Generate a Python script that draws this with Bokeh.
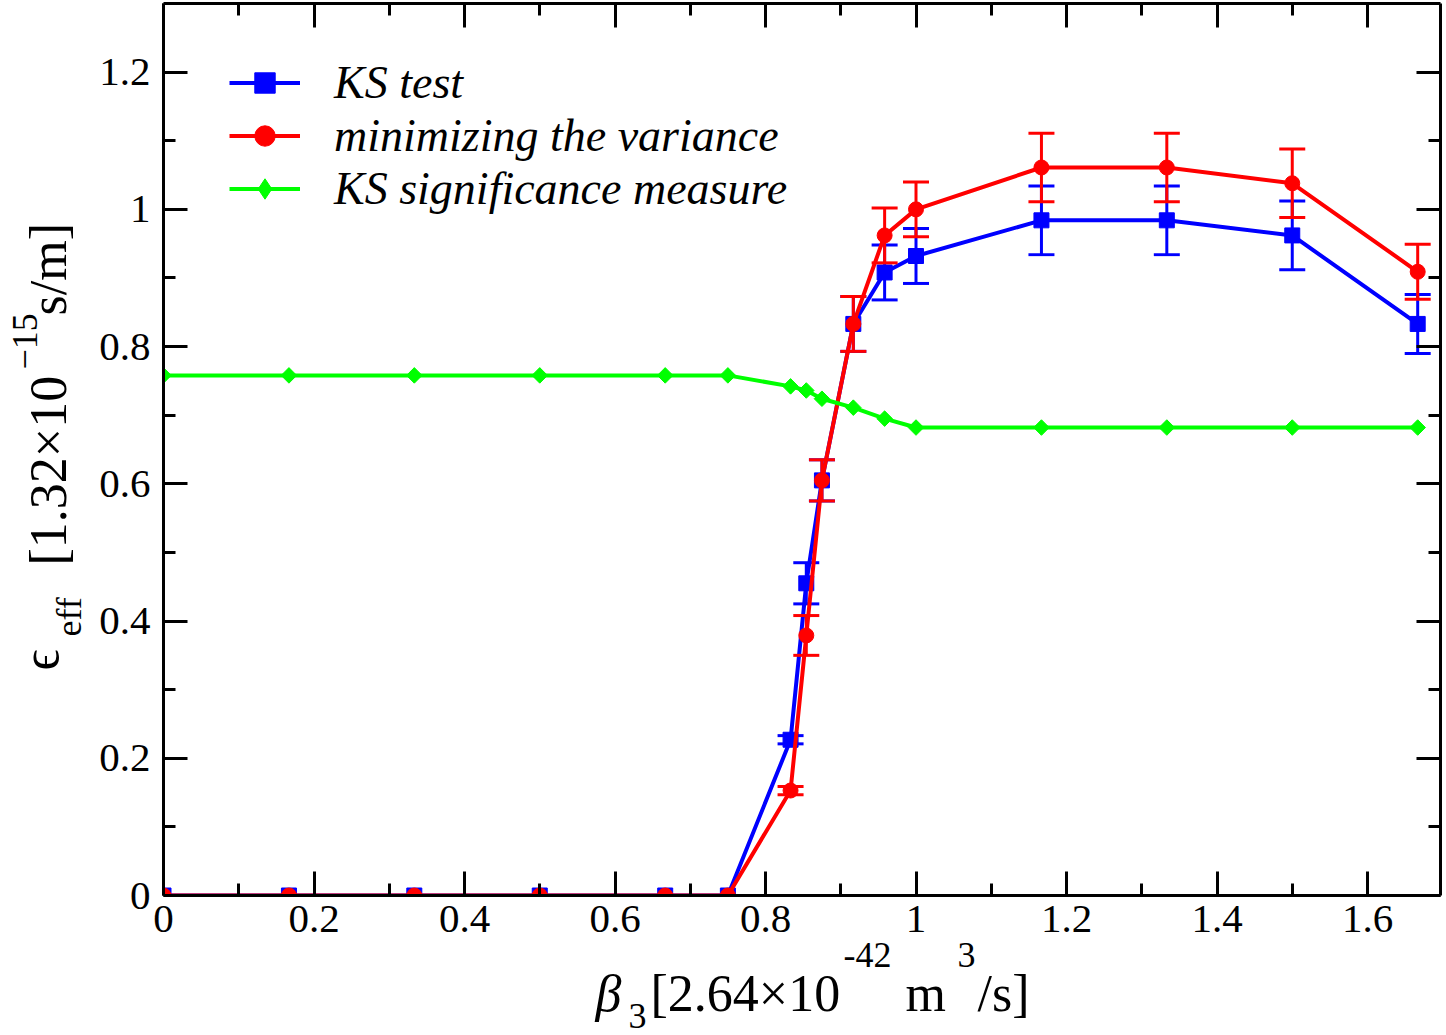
import math
from bokeh.plotting import figure
from bokeh.models import (ColumnDataSource, FixedTicker, CustomJSTickFormatter, LinearAxis,
                          Legend, LegendItem, Range1d, Title)
from bokeh.embed import file_html
from bokeh.resources import INLINE

# ---- data ----
beta = [0.0, 0.1667, 0.3333, 0.5, 0.6667, 0.75, 0.8333, 0.8542, 0.875, 0.9167,
        0.9583, 1.0, 1.1667, 1.3333, 1.5, 1.6667]
ks_test = [0, 0, 0, 0, 0, 0, 0.227, 0.455, 0.605, 0.833, 0.908, 0.932, 0.984, 0.984, 0.962, 0.833]
ks_err = [0, 0, 0, 0, 0, 0, 0.006, 0.030, 0.030, 0.040, 0.040, 0.040, 0.050, 0.050, 0.050, 0.043]
min_var = [0, 0, 0, 0, 0, 0, 0.153, 0.379, 0.605, 0.833, 0.962, 1.000, 1.061, 1.061, 1.038, 0.909]
var_err = [0, 0, 0, 0, 0, 0, 0.006, 0.029, 0.030, 0.040, 0.040, 0.040, 0.050, 0.050, 0.050, 0.040]
ks_sig = [0.758, 0.758, 0.758, 0.758, 0.758, 0.758, 0.742, 0.736, 0.724, 0.711, 0.695,
          0.682, 0.682, 0.682, 0.682, 0.682]

x_major = [0, 0.2, 0.4, 0.6, 0.8, 1.0, 1.2, 1.4, 1.6]
x_minor = [0.1, 0.3, 0.5, 0.7, 0.9, 1.1, 1.3, 1.5]
y_major = [0, 0.2, 0.4, 0.6, 0.8, 1.0, 1.2]
y_minor = [0.1, 0.3, 0.5, 0.7, 0.9, 1.1]

series_names = ["KS test", "minimizing the variance", "KS significance measure"]

BLUE, RED, GREEN = "#0000ff", "#ff0000", "#00ff00"
FONT = "Liberation Serif"

p = figure(width=1446, height=1035, output_backend="svg", toolbar_location=None,
           x_range=Range1d(0, 1.697), y_range=Range1d(0, 1.3),
           min_border_left=163, min_border_right=6, min_border_top=3, min_border_bottom=140)
p.xgrid.visible = False
p.ygrid.visible = False
p.outline_line_color = None
p.background_fill_color = "white"
p.border_fill_color = "white"

fmt = CustomJSTickFormatter(code="return String(Math.round(tick*10)/10);")
blank = CustomJSTickFormatter(code="return '';")


def style(ax, ticks, minor, labels=True):
    ax.ticker = FixedTicker(ticks=ticks, minor_ticks=minor)
    ax.axis_line_width = 3
    ax.axis_line_color = "black"
    ax.major_tick_in = 24
    ax.major_tick_out = 0
    ax.minor_tick_in = 12
    ax.minor_tick_out = 0
    ax.major_tick_line_width = 3
    ax.minor_tick_line_width = 3
    ax.major_tick_line_color = "black"
    ax.minor_tick_line_color = "black"
    ax.major_label_text_font = FONT
    ax.major_label_text_color = "black"
    if labels:
        ax.formatter = fmt
        ax.major_label_text_font_size = "41px"
    else:
        ax.formatter = blank
        ax.major_label_text_font_size = "1px"
        ax.major_label_standoff = 0


style(p.xaxis[0], x_major, x_minor)
p.xaxis[0].major_label_standoff = 10
style(p.yaxis[0], y_major, y_minor)
p.yaxis[0].major_label_standoff = 13

top = LinearAxis()
style(top, x_major, x_minor, labels=False)
p.add_layout(top, "above")
right = LinearAxis()
style(right, y_major, y_minor, labels=False)
p.add_layout(right, "right")


def errbars(y, err, color):
    xs = [b for b, e in zip(beta, err) if e > 0]
    lo = [v - e for v, e in zip(y, err) if e > 0]
    hi = [v + e for v, e in zip(y, err) if e > 0]
    src = ColumnDataSource(dict(x=xs, lo=lo, hi=hi))
    p.segment(x0="x", y0="lo", x1="x", y1="hi", source=src, line_color=color, line_width=3)
    p.scatter("x", "lo", source=src, marker="dash", size=26, line_color=color, line_width=3)
    p.scatter("x", "hi", source=src, marker="dash", size=26, line_color=color, line_width=3)


src = ColumnDataSource(dict(x=beta, ks=ks_test, var=min_var, sig=ks_sig))

errbars(ks_test, ks_err, BLUE)
bl = p.line("x", "ks", source=src, line_color=BLUE, line_width=4)
bs = p.scatter("x", "ks", source=src, marker="square", size=15, fill_color=BLUE, line_color=BLUE)

errbars(min_var, var_err, RED)
rl = p.line("x", "var", source=src, line_color=RED, line_width=4)
rs = p.scatter("x", "var", source=src, marker="circle", size=15, fill_color=RED, line_color=RED)

gl = p.line("x", "sig", source=src, line_color=GREEN, line_width=4)
# small diamonds hidden beneath the rotated squares; they give the legend its diamond key
g_key = p.scatter("x", "sig", source=src, marker="diamond", size=10,
                  fill_color=GREEN, line_color=GREEN)
gs = p.scatter("x", "sig", source=src, marker="square", angle=math.pi / 4, size=11,
               fill_color=GREEN, line_color=GREEN)

legend = Legend(items=[LegendItem(label=series_names[0], renderers=[bl, bs]),
                       LegendItem(label=series_names[1], renderers=[rl, rs]),
                       LegendItem(label=series_names[2], renderers=[gl, g_key])],
                location=(66, 680))
legend.label_text_font = FONT
legend.label_text_font_style = "italic"
legend.label_text_font_size = "46px"
legend.label_text_color = "black"
legend.label_height = 51
legend.glyph_height = 51
legend.glyph_width = 71
legend.label_standoff = 34
legend.spacing = 0
legend.padding = 0
legend.margin = 0
legend.border_line_color = None
legend.background_fill_alpha = 0
p.add_layout(legend)

# ---- axis titles, built from pieces placed in the side panels ----
H_EM = 1.16  # estimated text box height per px of font size


def add_rows(side, T0, groups, direction):
    T = T0
    for center, items in groups:
        gap = (center - T) * direction
        sp_h = H_EM * 4
        s = int(round(gap - 2 - sp_h))
        p.add_layout(Title(text=" ", text_font=FONT, text_font_size="4px",
                           text_font_style="normal", standoff=s), side)
        T += direction * (2 + sp_h + s)
        for text, offset, size, fstyle in items:
            h = H_EM * size
            s = int(round(-(2 + h)))
            p.add_layout(Title(text=text, align="left", offset=offset, vertical_align="middle",
                               standoff=s, text_font=FONT, text_font_size=f"{size}px",
                               text_font_style=fstyle, text_color="black"), side)
            T += direction * (2 + h + s)


# x title: beta_3 [2.64x10^-42 m^3/s]
add_rows("below", 935.6, [
    (955.0, [("-42", 680, 36, "normal"), ("3", 794, 36, "normal")]),
    (993.5, [("β", 432, 52, "italic"), ("[2.64×10", 487, 52, "normal"),
             ("m", 742, 52, "normal"), ("/s]", 814, 52, "normal")]),
    (1016.0, [("3", 465, 36, "normal")]),
], +1)

# y title: eps_eff [1.32x10^-15 s/m]
add_rows("left", 163 - 13 - 41 * 1.25, [
    (71.0, [("eff", 259, 36, "normal")]),
    (51.5, [("[1.32×10", 330, 52, "normal"), ("s/m]", 580, 52, "normal")]),
    (43.4, [("ϵ", 225, 52, "normal")]),
    (27.1, [("−15", 526, 36, "normal")]),
], -1)

open("out.html", "w").write(file_html(p, INLINE))
